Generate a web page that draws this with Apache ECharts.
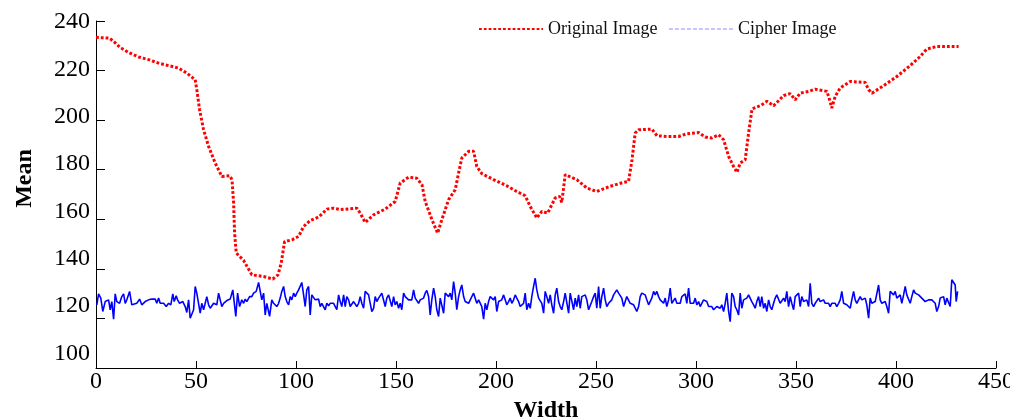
<!DOCTYPE html>
<html>
<head>
<meta charset="utf-8">
<script src="https://cdn.jsdelivr.net/npm/echarts@6/dist/echarts.min.js"></script>
<style>html,body{margin:0;padding:0;background:#fff}#c{width:1010px;height:418px}</style>
</head>
<body>
<div id="c"></div>
<script>
// ---- data ----
const seriesNames = ['Original Image', 'Cipher Image'];
const xTickLabels = [0, 50, 100, 150, 200, 250, 300, 350, 400, 450];
const yTickLabels = [100, 120, 140, 160, 180, 200, 220, 240];

// Original image: [width, mean]
const originalPoints = [[0,233.4],[6.6,233.1],[8.8,231.8],[12.1,229.3],[16.3,227.3],[21.3,225.5],[26.3,224.4],[31.3,223],[36.3,222],[41.3,221],[45.4,219],[49.6,216.3],[50.4,212.3],[51.8,204.2],[53.8,196.1],[56.3,189.4],[59.6,182.7],[62.9,177.3],[66.8,177.6],[68,176],[68.8,166.6],[69.3,154.5],[70.1,146.4],[73.8,143.4],[77.9,137.6],[83.8,136.9],[88.4,135.9],[91,137.6],[92.6,142.3],[94.3,151],[98,151.7],[101.3,153.1],[103.8,157.1],[107.1,159.5],[111.3,160.9],[115.5,164.1],[118.8,164.5],[122.1,163.9],[130.4,164.5],[132.1,162.5],[134.6,158.7],[138.8,161.8],[144.6,164.1],[149.6,167.2],[152.1,174.6],[156.3,177],[160.4,176.6],[163,173.9],[164.6,167.2],[168,159.8],[170.8,154.4],[172.9,159.8],[176.3,167.9],[179.6,171.9],[181.3,178.7],[182.9,184.7],[186.3,187.4],[188.8,187.4],[190.4,181.3],[192.9,178.4],[198.8,176],[205.4,173.5],[210.4,171.2],[214.6,169.5],[217.1,165.2],[220.4,160.5],[222.9,163.2],[225.8,162.5],[229.6,168.6],[231.8,169.2],[232.9,166.8],[234.6,178],[240.4,176],[245.4,172.6],[250.4,171.2],[257.1,173.3],[263.8,174.9],[266.3,175.3],[268,184],[269.6,194.8],[271.3,196.1],[277.9,196.4],[280.5,193.7],[285.5,193.4],[291.3,193.4],[295.5,194.5],[301.3,195],[304.6,193.2],[307.9,192.8],[311.3,194.1],[313.8,192.1],[316.3,185.4],[318.8,181.3],[320.5,178.9],[322.1,182.7],[324.6,184],[326.3,194.8],[328,204.5],[332.1,205.8],[335.5,207.6],[338.8,205.8],[343.8,209.9],[347.1,210.7],[349.6,208.2],[352.1,210.9],[356.3,211.6],[359.6,212.5],[365.5,211.6],[366.8,208.2],[367.9,204.9],[369.6,209.6],[372.1,213],[377.1,215.6],[384.6,215.2],[386.3,212.3],[388,210.9],[393.8,213.9],[400.4,217.6],[407.1,222],[412.1,225.7],[415.4,228.7],[420.4,229.7],[431.3,229.7]];

// Cipher image: [width, mean], in three stretches
const cipherPointsA = [[0.4,125.5],[1.3,129.9],[2.4,128.2],[3.4,122.8],[4.6,126.8],[5.4,126.1],[6.3,127.5],[7.1,123.5],[7.9,126.8],[8.8,119.7],[9.6,129.9],[10.4,126.8],[11.8,126.1],[12.9,128.8],[13.8,129.9],[14.6,126.1],[15.4,127.5],[16.8,130.9],[17.9,125.5],[18.8,126.1],[20.4,126.1],[21.8,127.8],[22.9,125.5],[24.6,126.8],[26.3,127.5],[27.9,127.8],[29.6,127.8],[30.4,126.1],[31.3,128.2],[32.1,126.1],[32.9,126.8],[33.8,126.1],[35.1,124.8],[36.3,126.1],[37.4,125.5],[38.4,129.9],[39.1,126.8],[40.1,129.1],[40.8,127.5],[41.8,126.1],[42.4,125.5],[43.4,126.8],[44.6,124.8],[45.4,122.4],[46.3,127.5],[47.1,120.1],[47.9,119.4],[48.8,123.5],[49.6,132.9],[50.4,130.2],[51.3,130.9],[52.1,122.1],[52.9,126.1],[53.8,123.5],[54.6,126.1],[55.4,128.8],[56.3,125.5],[57.1,124.1],[57.9,124.8],[58.8,126.1],[59.6,126.1],[60.4,125.5],[61.3,130.2],[62.1,130.9],[62.9,124.8],[63.8,126.1],[64.6,126.4],[65.4,127.2],[67.1,127.8],[68.4,131.5],[69.1,131.5],[69.9,120.8],[70.8,130.2],[71.8,124.8],[72.9,127.5],[73.8,126.1],[74.6,127.8],[75.4,126.8],[76.8,128.8],[77.9,128.8],[78.8,130.2],[80.1,130.9],[81.3,134.5],[82.1,134.2],[82.9,127.5],[83.8,130.2],[84.6,121.4],[85.4,126.1],[86.3,126.1],[86.8,120.8],[87.9,127.5],[88.8,126.1],[89.6,126.8],[90.4,124.8],[91.3,126.1],[92.1,128.2],[92.9,130.9],[93.8,132.9],[94.6,128.8],[95.4,126.8],[96.3,125.5],[97.1,128.8],[97.9,127.5],[98.8,130.2],[99.6,128.8],[100.4,130.2],[101.3,131.5],[102.1,132.2],[102.9,134.5],[103.8,129.5],[104.6,124.8],[105.4,131.5],[106.3,132.9],[107.1,121.4],[107.9,129.5],[108.8,128.8],[109.6,127.5],[110.4,126.8],[111.3,127.8],[112.1,124.8],[112.9,126.1],[113.8,126.1],[114.6,123.5],[115.4,126.1],[116.3,125.1],[117.1,126.1],[117.9,126.8],[118.8,126.1],[119.6,126.8],[120.4,123.5],[121.3,129.5],[122.1,126.8],[122.9,124.8],[123.8,129.5],[124.6,124.8],[125.4,128.8],[126.3,127.5],[127.1,124.8],[127.9,124.1],[128.8,126.8],[129.6,126.1],[130.4,124.8],[131.3,126.1],[132.1,128.8],[132.9,126.1],[133.8,124.1],[134.6,130.9],[135.4,131.5],[136.3,129.5],[137.1,126.1],[137.9,122.8],[138.8,124.1],[139.6,128.8],[140.4,126.8],[141.3,128.2],[142.1,128.8],[142.9,130.2],[143.8,129.5],[144.6,124.8],[145.4,128.2],[146.3,129.5]];
const cipherPointsB = [[147.1,129.5],[147.9,124.8],[148.8,128.8],[149.6,125.5],[150.4,126.8],[151.3,124.1],[152.1,126.1],[152.9,123.5],[153.8,130.2],[154.6,128.8],[155.4,128.2],[156.3,127.5],[157.1,128.2],[157.9,127.5],[158.8,131.5],[159.6,128.2],[160.4,128.8],[161.3,126.1],[162.1,127.5],[162.9,126.8],[163.8,128.2],[164.6,130.2],[165.4,131.3],[166.3,128.8],[167.1,121.4],[167.9,127.5],[168.8,132.2],[169.6,128.8],[170.4,123.5],[171.3,120.8],[172.1,128.2],[172.9,127.5],[173.8,122.1],[174.6,130.2],[175.4,130.9],[176.3,128.8],[177.1,130.2],[177.9,127.5],[178.8,134.9],[179.6,130.2],[180.4,123.5],[181.3,128.8],[182.1,131.5],[182.9,133.5],[183.8,128.8],[184.6,126.8],[185.4,126.1],[186.3,126.1],[187.1,125.5],[187.9,128.8],[188.8,130.2],[189.6,129.5],[190.4,126.1],[191.3,127.5],[192.1,128.2],[192.9,124.8],[193.8,119.7],[194.6,126.1],[195.4,123.5],[196.3,126.8],[197.1,128.8],[197.9,128.2],[198.8,127.5],[199.6,128.8],[200.4,122.8],[201.3,126.8],[202.1,126.1],[202.9,127.5],[203.8,129.5],[204.6,127.5],[205.4,125.5],[206.3,126.8],[207.1,128.2],[207.9,126.1],[208.8,127.5],[209.6,129.5],[210.4,128.2],[211.3,126.8],[212.1,124.8],[212.9,124.8],[213.8,126.1],[214.6,130.2],[215.4,123.5],[216.3,126.1],[217.1,124.1],[217.9,128.8],[218.8,132.9],[219.6,136.2],[220.4,131.5],[221.3,128.2],[222.1,127.5],[222.9,126.1],[223.8,122.1],[224.6,130.9],[225.4,128.8],[226.3,126.1],[227.1,129.5],[227.9,125.5],[228.8,122.1],[229.6,129.5],[230.4,132.2],[231.3,126.8],[232.1,124.8],[232.9,123.5],[233.8,126.8],[234.6,130.2],[235.4,129.5],[236.3,122.1],[237.1,130.2],[237.9,129.5],[238.8,123.5],[239.6,128.2],[240.4,124.8],[241.3,129.5],[242.1,124.1],[242.9,128.8],[243.8,128.2],[244.6,129.5],[245.4,127.5],[246.3,123.5],[247.1,122.8],[247.9,126.8],[248.8,128.8],[249.6,130.2],[250.4,124.1],[251.3,132.9],[252.1,124.1],[252.9,128.8],[253.8,132.2],[254.6,127.5],[255.4,124.8],[256.3,126.1],[257.1,126.8],[257.9,127.5],[258.8,129.5],[259.6,128.8],[260.4,131.5],[261.3,130.2],[262.1,130.9],[262.9,128.2],[263.8,124.8],[264.6,126.8],[265.4,128.8],[266.3,129.5],[267.1,126.1],[267.9,126.8],[268.8,125.5],[269.6,126.1],[270.4,122.8],[271.3,124.8],[272.1,128.8],[272.9,130.2],[273.8,129.5],[274.6,129.5],[275.4,127.5],[276.3,125.5],[277.1,126.1],[277.9,128.2],[278.8,130.9],[279.6,129.5],[280.4,130.9],[281.3,128.8],[282.1,127.5],[282.9,126.8],[283.8,126.1],[284.6,128.2],[285.4,124.8],[286.3,127.5],[287.1,132.2],[287.9,126.1],[288.8,126.8],[289.6,128.2],[290.4,126.1],[291.3,126.8]];
const cipherPointsC = [[292.1,126.1],[292.9,128.8],[293.8,129.5],[294.6,129.9],[295.4,126.1],[296.3,132.2],[297.1,126.1],[297.9,126.8],[298.8,126.1],[299.6,128.2],[300.4,125.5],[301.3,126.8],[302.1,124.8],[302.9,126.1],[303.8,127.5],[304.6,128.2],[305.4,126.8],[306.3,124.8],[307.1,124.1],[307.9,124.8],[308.8,123.5],[309.6,124.1],[310.4,124.8],[311.3,125.5],[312.1,124.1],[312.9,125.5],[313.8,122.8],[314.6,126.1],[315.4,130.2],[316.3,122.8],[317.1,118.7],[317.9,130.2],[318.8,128.8],[319.6,124.8],[320.4,123.5],[321.3,121.4],[322.1,130.2],[322.9,124.1],[323.8,127.5],[324.6,126.8],[325.4,128.2],[326.3,129.5],[327.1,128.8],[327.9,126.8],[328.8,125.5],[329.6,124.1],[330.4,126.8],[331.3,128.8],[332.1,124.8],[332.9,128.8],[333.8,124.1],[334.6,126.1],[335.4,122.8],[336.3,127.5],[337.1,124.8],[337.9,123.5],[338.8,126.1],[339.6,128.2],[340.4,129.5],[341.3,129.5],[342.1,126.1],[342.9,126.1],[343.8,128.2],[344.6,126.8],[345.4,130.9],[346.3,124.8],[347.1,128.8],[347.9,126.1],[348.8,123.5],[349.6,128.8],[350.4,129.5],[351.3,130.2],[352.1,124.8],[352.9,128.8],[353.8,126.8],[354.6,127.5],[355.4,127.5],[356.3,124.8],[357.1,134.2],[357.9,126.1],[358.8,124.8],[359.6,126.1],[360.4,126.8],[361.3,128.2],[362.1,126.8],[362.9,127.5],[363.8,127.5],[364.6,126.1],[365.4,125.5],[366.3,126.1],[367.1,124.8],[367.9,126.1],[368.8,125.5],[369.6,126.1],[370.4,124.8],[371.3,126.1],[372.1,127.5],[372.9,130.9],[373.8,126.1],[374.6,126.1],[375.4,125.5],[376.3,124.8],[377.1,124.1],[377.9,127.5],[378.8,130.9],[379.6,127.5],[380.4,126.1],[381.3,126.1],[382.1,128.8],[382.9,127.5],[383.8,128.2],[384.6,128.2],[385.4,125.5],[386.3,120.1],[387.1,128.2],[387.9,126.1],[388.8,126.1],[389.6,126.8],[390.4,127.5],[391.3,133.5],[392.1,127.5],[392.9,126.1],[393.8,126.1],[394.6,126.8],[395.4,124.8],[396.3,122.1],[397.1,130.9],[397.9,130.2],[398.8,129.5],[399.6,130.9],[400.4,128.2],[401.3,127.5],[402.1,129.5],[402.9,126.1],[403.8,129.5],[404.6,132.9],[405.4,129.5],[406.3,130.2],[407.1,126.1],[407.9,128.8],[408.8,131.5],[409.6,130.2],[410.4,129.5],[411.3,129.5],[412.1,128.8],[412.9,128.2],[413.8,127.5],[414.6,126.8],[415.4,126.1],[416.3,127.5],[417.1,126.8],[417.9,127.5],[418.8,126.8],[419.6,126.1],[420.4,122.8],[421.3,124.8],[422.1,128.2],[422.9,128.8],[423.8,128.8],[424.6,125.5],[425.4,128.2],[426.3,127.5],[427.1,124.8],[427.9,135.6],[428.8,134.9],[429.6,133.5],[430.1,126.8],[430.8,130.9]];

const cipherPoints = cipherPointsA.concat(cipherPointsB, cipherPointsC);

const FONT = '"Liberation Serif", "Times New Roman", serif';
const chart = echarts.init(document.getElementById('c'), null, {renderer: 'canvas'});
chart.setOption({
  animation: false,
  backgroundColor: '#ffffff',
  grid: {left: 96, right: 14, top: 21, bottom: 50, outerBoundsMode: 'none'},
  legend: {
    left: 473, top: 15,
    itemWidth: 64, itemHeight: 14, itemGap: 11,
    itemStyle: {opacity: 0},
    textStyle: {fontFamily: FONT, fontSize: 18, color: '#111'},
    data: [
      {name: seriesNames[0]},
      {name: seriesNames[1], lineStyle: {type: 'dashed', width: 1, color: '#8c8cff'}}
    ]
  },
  xAxis: {
    type: 'value', min: 0, max: 450, interval: 50,
    name: 'Width', nameLocation: 'middle', nameGap: 29,
    nameTextStyle: {fontFamily: FONT, fontSize: 24, fontWeight: 'bold', color: '#000'},
    axisLine: {show: true, lineStyle: {color: '#000', width: 1}},
    axisTick: {show: true, inside: true, length: 7, lineStyle: {color: '#000'}},
    axisLabel: {fontFamily: FONT, fontSize: 24, color: '#000', margin: 2,
      formatter: v => xTickLabels.indexOf(v) >= 0 ? String(v) : ''},
    splitLine: {show: false}
  },
  yAxis: [{
    type: 'value', min: 100, max: 240, interval: 20,
    name: 'Mean', nameLocation: 'middle', nameGap: 59, nameRotate: 90,
    nameTextStyle: {fontFamily: FONT, fontSize: 24, fontWeight: 'bold', color: '#000', padding: [0, 0, 0, 32]},
    axisLine: {show: true, lineStyle: {color: '#000', width: 1}},
    axisTick: {show: true, inside: true, length: 9, lineStyle: {color: '#000'}},
    axisLabel: {show: false},
    splitLine: {show: false}
  }, {
    type: 'value', min: 93.8, max: 240.5, position: 'left', offset: 0,
    axisLine: {show: false}, axisTick: {show: false}, splitLine: {show: false},
    axisLabel: {show: true, customValues: yTickLabels, fontFamily: FONT, fontSize: 24, color: '#000', margin: 6}
  }],
  series: [{
    name: seriesNames[0], type: 'line', symbol: 'none', yAxisIndex: 0,
    data: originalPoints,
    lineStyle: {color: '#ff0000', width: 3, type: [2.8, 2]},
    itemStyle: {color: '#ff0000'}
  }, {
    name: seriesNames[1], type: 'line', symbol: 'none', yAxisIndex: 0,
    data: cipherPoints,
    lineStyle: {color: '#0000ff', width: 1.6},
    itemStyle: {color: '#0000ff'}
  }]
});
</script>
</body>
</html>
